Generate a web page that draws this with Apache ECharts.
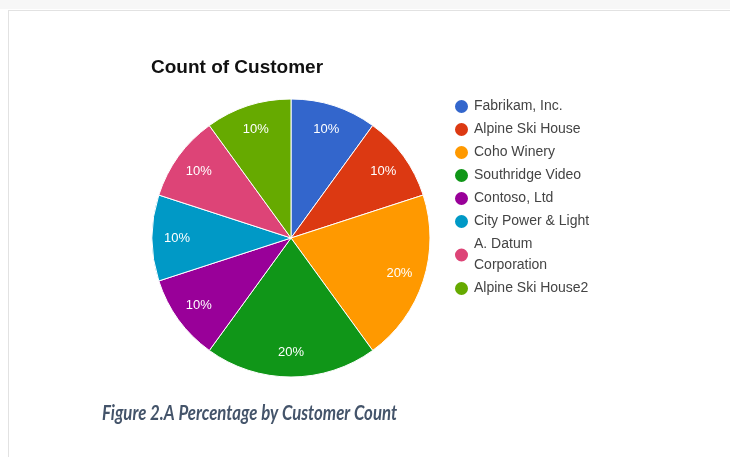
<!DOCTYPE html>
<html>
<head>
<meta charset="utf-8">
<script src="https://cdn.jsdelivr.net/npm/echarts@6/dist/echarts.min.js"></script>
<style>
  html, body { margin: 0; padding: 0; background: #fff; }
  #chart { width: 730px; height: 457px; }
</style>
</head>
<body>
<div id="chart"></div>
<script>
// customers, in clockwise order from 12 o'clock
const customers = [
  'Fabrikam, Inc.',
  'Alpine Ski House',
  'Coho Winery',
  'Southridge Video',
  'Contoso, Ltd',
  'City Power & Light',
  'A. Datum Corporation',
  'Alpine Ski House2'
]
const counts = [1, 1, 2, 2, 1, 1, 1, 1]
const colors = ['#3366cc', '#dc3912', '#ff9900', '#109618', '#990099', '#0099c6', '#dd4477', '#66aa00']

const chart = echarts.init(document.getElementById('chart'))

const pieData = customers.map((name, i) => ({
  name,
  value: counts[i],
  itemStyle: { color: colors[i] }
}))

// legend names wrap like the original (A. Datum / Corporation)
const legendLabel = name => (name === 'A. Datum Corporation' ? 'A. Datum\nCorporation' : name)

const CENTER = [291, 238]
const R = 139

chart.setOption({
  backgroundColor: '#fff',
  animation: false,
  title: {
    text: 'Count of Customer',
    left: 146,
    top: 53,
    textStyle: {
      fontFamily: 'Liberation Sans, Arial, sans-serif',
      fontSize: 19,
      fontWeight: 'bold',
      color: '#111'
    }
  },
  legend: {
    orient: 'vertical',
    left: 448,
    top: 91,
    icon: 'circle',
    itemWidth: 15,
    itemHeight: 15,
    itemGap: 2,
    data: customers,
    formatter: legendLabel,
    textStyle: {
      fontFamily: 'Liberation Sans, Arial, sans-serif',
      fontSize: 14,
      color: '#444',
      lineHeight: 21
    }
  },
  graphic: [
    {
      type: 'rect',
      shape: { x: 0, y: 0, width: 730, height: 9 },
      style: { fill: '#f7f7f7' },
      silent: true
    },
    {
      type: 'line',
      shape: { x1: 8, y1: 10.5, x2: 730, y2: 10.5 },
      style: { stroke: '#e2e2e2', lineWidth: 1 },
      silent: true
    },
    {
      type: 'line',
      shape: { x1: 8.5, y1: 10, x2: 8.5, y2: 457 },
      style: { stroke: '#e2e2e2', lineWidth: 1 },
      silent: true
    },
    {
      // caption under the chart (Calibri-like, so squeeze a little)
      type: 'text',
      x: 102,
      y: 413,
      scaleX: 0.8,
      style: {
        text: 'Figure 2.A Percentage by Customer Count',
        fontFamily: 'Lato, sans-serif',
        fontSize: 21,
        fontStyle: 'italic',
        fontWeight: 'bold',
        fill: '#44546a',
        verticalAlign: 'middle'
      },
      silent: true
    }
  ],
  series: [
    {
      type: 'pie',
      center: CENTER,
      radius: R,
      startAngle: 90,
      clockwise: true,
      data: pieData,
      label: { show: false },
      labelLine: { show: false },
      itemStyle: { borderColor: '#fff', borderWidth: 1 },
      emphasis: { scale: false }
    },
    {
      // transparent ring just to place the percent labels at ~0.8R
      type: 'pie',
      center: CENTER,
      radius: [83, R],
      startAngle: 90,
      clockwise: true,
      silent: true,
      legendHoverLink: false,
      data: customers.map((name, i) => ({ name, value: counts[i] })),
      itemStyle: { color: 'rgba(0,0,0,0)' },
      label: {
        show: true,
        position: 'inside',
        formatter: p => Math.round(p.percent) + '%',
        color: '#fff',
        fontFamily: 'Liberation Sans, Arial, sans-serif',
        fontSize: 13
      },
      labelLine: { show: false }
    }
  ]
})
</script>
</body>
</html>
